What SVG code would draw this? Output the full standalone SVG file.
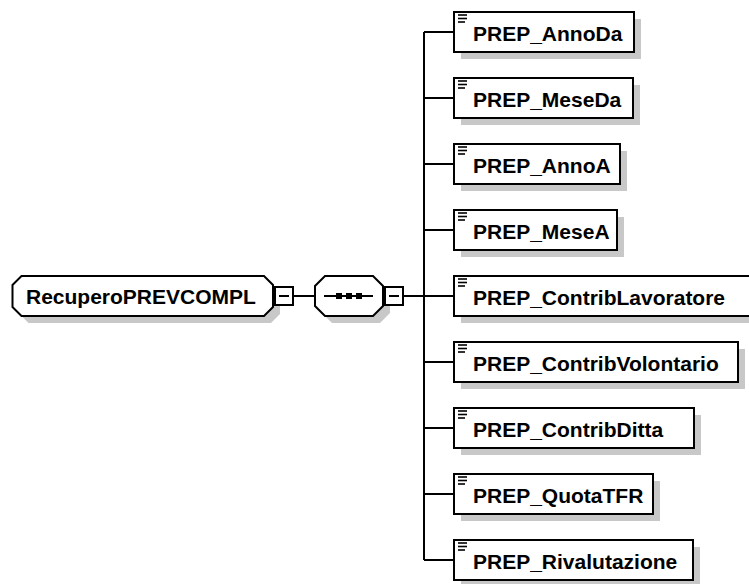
<svg xmlns="http://www.w3.org/2000/svg" width="749" height="584" viewBox="0 0 749 584">
<style>
.bx{fill:#fff;stroke:#000;stroke-width:2}
.sh{fill:#c8c8c8;stroke:none}
.ln{stroke:#000;stroke-width:2;fill:none}
.ic{stroke:#000;stroke-width:1.6}
.t{font-family:"Liberation Sans",Arial,sans-serif;font-weight:bold;font-size:21px;fill:#000}
</style>
<defs>
<g id="icon"><line class="ic" x1="458" y1="0" x2="467" y2="0"/><line class="ic" x1="458" y1="3.5" x2="467" y2="3.5"/><line class="ic" x1="458" y1="7" x2="465" y2="7"/></g>
</defs>
<rect width="749" height="584" fill="#fff"/>
<g id="connectors">
<line class="ln" x1="293" y1="296" x2="315" y2="296"/>
<line class="ln" x1="403" y1="296" x2="424" y2="296"/>
<line class="ln" x1="424" y1="32" x2="424" y2="560"/>
<line class="ln" x1="424" y1="32" x2="454" y2="32"/>
<line class="ln" x1="424" y1="98" x2="454" y2="98"/>
<line class="ln" x1="424" y1="164" x2="454" y2="164"/>
<line class="ln" x1="424" y1="230" x2="454" y2="230"/>
<line class="ln" x1="424" y1="296" x2="454" y2="296"/>
<line class="ln" x1="424" y1="362" x2="454" y2="362"/>
<line class="ln" x1="424" y1="428" x2="454" y2="428"/>
<line class="ln" x1="424" y1="494" x2="454" y2="494"/>
<line class="ln" x1="424" y1="560" x2="454" y2="560"/>
</g>
<g id="root">
<path class="sh" d="M28.5,283 H271 L280,292 V314 L271,323 H28.5 L19.5,314 V292 Z"/>
<path class="bx" d="M21.5,276 H264 L273,285 V307 L264,316 H21.5 L12.5,307 V285 Z"/>
<text class="t" x="26" y="304">RecuperoPREVCOMPL</text>
<rect class="bx" x="275" y="287" width="18" height="18"/>
<line class="ln" x1="279" y1="296" x2="289" y2="296"/>
</g>
<g id="sequence">
<path class="sh" d="M332,283 H380 L390,293 V313 L380,323 H332 L322,313 V293 Z"/>
<path class="bx" d="M325,276 H373 L383,286 V306 L373,316 H325 L315,306 V286 Z"/>
<line class="ln" x1="324" y1="296" x2="373" y2="296"/>
<rect x="336" y="293" width="6" height="6" fill="#000"/>
<rect x="346" y="293" width="6" height="6" fill="#000"/>
<rect x="356" y="293" width="6" height="6" fill="#000"/>
<rect class="bx" x="385" y="287" width="18" height="18"/>
<line class="ln" x1="389" y1="296" x2="399" y2="296"/>
</g>
<g id="n1"><rect class="sh" x="461" y="19" width="180" height="40"/><rect class="bx" x="454" y="12" width="180" height="40"/><use href="#icon" y="15"/><text class="t" x="473" y="41">PREP_AnnoDa</text></g>
<g id="n2"><rect class="sh" x="461" y="85" width="179" height="40"/><rect class="bx" x="454" y="78" width="179" height="40"/><use href="#icon" y="81"/><text class="t" x="473" y="107">PREP_MeseDa</text></g>
<g id="n3"><rect class="sh" x="461" y="151" width="166" height="40"/><rect class="bx" x="454" y="144" width="166" height="40"/><use href="#icon" y="147"/><text class="t" x="473" y="173">PREP_AnnoA</text></g>
<g id="n4"><rect class="sh" x="461" y="217" width="163" height="40"/><rect class="bx" x="454" y="210" width="163" height="40"/><use href="#icon" y="213"/><text class="t" x="473" y="239">PREP_MeseA</text></g>
<g id="n5"><rect class="sh" x="461" y="283" width="300" height="40"/><rect class="bx" x="454" y="276" width="300" height="40"/><use href="#icon" y="279"/><text class="t" x="473" y="305">PREP_ContribLavoratore</text></g>
<g id="n6"><rect class="sh" x="461" y="349" width="284" height="40"/><rect class="bx" x="454" y="342" width="284" height="40"/><use href="#icon" y="345"/><text class="t" x="473" y="371">PREP_ContribVolontario</text></g>
<g id="n7"><rect class="sh" x="461" y="415" width="240" height="40"/><rect class="bx" x="454" y="408" width="240" height="40"/><use href="#icon" y="411"/><text class="t" x="473" y="437">PREP_ContribDitta</text></g>
<g id="n8"><rect class="sh" x="461" y="481" width="199" height="40"/><rect class="bx" x="454" y="474" width="199" height="40"/><use href="#icon" y="477"/><text class="t" x="473" y="503">PREP_QuotaTFR</text></g>
<g id="n9"><rect class="sh" x="461" y="547" width="239" height="40"/><rect class="bx" x="454" y="540" width="239" height="40"/><use href="#icon" y="543"/><text class="t" x="473" y="569">PREP_Rivalutazione</text></g>
</svg>
